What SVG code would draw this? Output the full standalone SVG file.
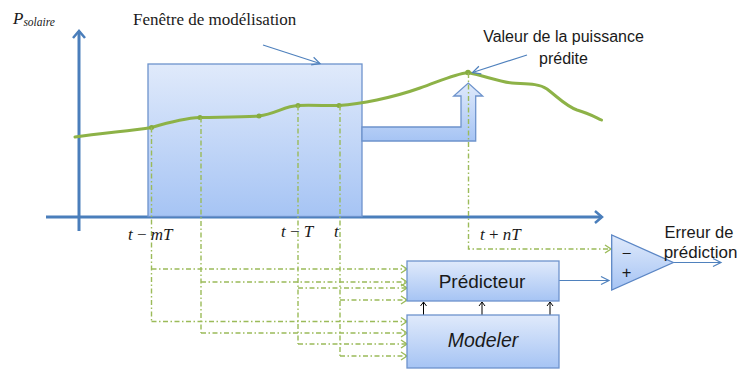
<svg xmlns="http://www.w3.org/2000/svg" width="741" height="371" viewBox="0 0 741 371">
<style>
.ax{fill:none;stroke:#4a7ebb;stroke-width:3}
.thin{fill:none;stroke:#4f81bd;stroke-width:1.2}
.dd{fill:none;stroke:#9bbb59;stroke-width:1.4;stroke-dasharray:5 2.5 1.5 2.5}
.box{fill:url(#gb);stroke:#6d93cc;stroke-width:1.3}
.curve{fill:none;stroke:#8db247;stroke-width:3;stroke-linecap:round;stroke-linejoin:round}
.pt{fill:#86ac40}
.sans{font-family:"Liberation Sans",Arial,sans-serif;fill:#1a1a1a}
.serif{font-family:"Liberation Serif","Times New Roman",serif;fill:#1a1a1a}
.blk{fill:none;stroke:#000;stroke-width:1}
</style>
<defs>
<linearGradient id="gb" x1="0" y1="0" x2="0" y2="1">
<stop offset="0" stop-color="#e0eafb"/>
<stop offset="1" stop-color="#a6c4f4"/>
</linearGradient>
<marker id="axh" markerUnits="userSpaceOnUse" markerWidth="20" markerHeight="20" refX="10" refY="10" orient="auto" viewBox="0 0 20 20">
<path d="M3,4 L10,10 L3,16" fill="none" stroke="#4a7ebb" stroke-width="2.5"/>
</marker>
<marker id="bh" markerUnits="userSpaceOnUse" markerWidth="14" markerHeight="14" refX="10" refY="7" orient="auto" viewBox="0 0 14 14">
<path d="M2,3 L10,7 L2,11" fill="none" stroke="#4f81bd" stroke-width="1.2"/>
</marker>
<marker id="gh" markerUnits="userSpaceOnUse" markerWidth="14" markerHeight="14" refX="10" refY="7" orient="auto" viewBox="0 0 14 14">
<path d="M4,3 L10,7 L4,11" fill="none" stroke="#9bbb59" stroke-width="1.4"/>
</marker>
<marker id="kh" markerUnits="userSpaceOnUse" markerWidth="10" markerHeight="10" refX="8" refY="5" orient="auto" viewBox="0 0 10 10">
<path d="M4,2 L8,5 L4,8" fill="none" stroke="#000" stroke-width="1"/>
</marker>
</defs>

<g id="axes">
<line class="ax" x1="79" y1="231" x2="79" y2="31" marker-end="url(#axh)"/>
<line class="ax" x1="46" y1="217" x2="602" y2="217" marker-end="url(#axh)"/>
</g>

<g id="window">
<rect class="box" x="148" y="64" width="214" height="152.5"/>
<path class="box" d="M362,127 L461,127 L461,96 L453.7,96 L468.3,83 L482.7,96 L475.7,96 L475.7,141 L362,141 Z"/>
</g>

<g id="curve">
<path class="curve" d="M75,137 C100,133 130,131 151.5,127.5 C170,122 185,118 200,117.5 C225,117 245,117 259,116 C275,114 285,106 298,105.5 C315,105 330,106 339,105.5 C360,104 392,98 420,88 C440,81 455,74 468,72.5 C485,76 500,82 512,83 C525,84 538,83 547,89 C560,99 566,106 577,110 C588,113 595,117 601.5,120"/>
<circle class="pt" cx="151.5" cy="127.5" r="2.5"/>
<circle class="pt" cx="200" cy="117.5" r="2.5"/>
<circle class="pt" cx="259" cy="116" r="2.5"/>
<circle class="pt" cx="298" cy="105.5" r="2.5"/>
<circle class="pt" cx="339" cy="105.5" r="2.5"/>
<circle class="pt" cx="468" cy="72.5" r="2.8"/>
</g>

<g id="connectors">
<polyline class="dd" points="151.5,127.5 151.5,322"/>
<polyline class="dd" points="201,117.5 201,333"/>
<polyline class="dd" points="298,105.5 298,344"/>
<polyline class="dd" points="340,105.5 340,356"/>
<polyline class="dd" points="468.5,73 468.5,249 611,249" marker-end="url(#gh)"/>
<line class="dd" x1="151.5" y1="269" x2="407" y2="269" marker-end="url(#gh)"/>
<line class="dd" x1="201" y1="282" x2="407" y2="282" marker-end="url(#gh)"/>
<line class="dd" x1="298" y1="288" x2="407" y2="288" marker-end="url(#gh)"/>
<line class="dd" x1="340" y1="300" x2="407" y2="300" marker-end="url(#gh)"/>
<line class="dd" x1="151.5" y1="321.5" x2="407" y2="321.5" marker-end="url(#gh)"/>
<line class="dd" x1="201" y1="333" x2="407" y2="333" marker-end="url(#gh)"/>
<line class="dd" x1="298" y1="344" x2="407" y2="344" marker-end="url(#gh)"/>
<line class="dd" x1="340" y1="356" x2="407" y2="356" marker-end="url(#gh)"/>
<line class="blk" x1="423.5" y1="315" x2="423.5" y2="302" marker-end="url(#kh)"/>
<line class="blk" x1="482" y1="315" x2="482" y2="302" marker-end="url(#kh)"/>
<line class="blk" x1="550" y1="315" x2="550" y2="302" marker-end="url(#kh)"/>
<line class="thin" x1="559" y1="280.5" x2="609" y2="280.5" marker-end="url(#bh)"/>
<line class="thin" x1="673" y1="262.5" x2="721" y2="262.5" marker-end="url(#bh)"/>
<line class="thin" x1="263" y1="45" x2="320" y2="63.5" marker-end="url(#bh)"/>
<line class="thin" x1="527" y1="55" x2="472.5" y2="72.5" marker-end="url(#bh)"/>
</g>

<g id="predicteur">
<rect class="box" x="407" y="261" width="152" height="40"/>
<text class="sans" x="482" y="287.5" font-size="19" text-anchor="middle">Prédicteur</text>
</g>

<g id="modeler">
<rect class="box" x="407" y="315" width="152" height="53"/>
<text class="sans" x="483" y="347" font-size="19.5" font-style="italic" text-anchor="middle">Modeler</text>
</g>

<g id="comparateur">
<path d="M611.7,235 L611.7,290 L673.3,262.5 Z" fill="url(#gb)" stroke="#5b86c5" stroke-width="1.3"/>
<text class="sans" x="626.5" y="258.5" font-size="16.5" text-anchor="middle">−</text>
<text class="sans" x="626.5" y="278" font-size="16.5" text-anchor="middle">+</text>
</g>

<g id="labels">
<text class="serif" x="13" y="23.5" font-size="17" font-style="italic">P<tspan font-size="11.5" dy="2">solaire</tspan></text>
<text class="serif" x="133" y="25" font-size="17">Fenêtre de modélisation</text>
<text class="sans" x="563.5" y="41.5" font-size="16" text-anchor="middle">Valeur de la puissance</text>
<text class="sans" x="563.5" y="63.5" font-size="16" text-anchor="middle">prédite</text>
<text class="sans" x="699" y="237.5" font-size="16.5" text-anchor="middle">Erreur de</text>
<text class="sans" x="700.5" y="257.5" font-size="17" text-anchor="middle">prédiction</text>
<text class="serif" x="128" y="240" font-size="17" font-style="italic">t <tspan font-style="normal">−</tspan> mT</text>
<text class="serif" x="281" y="237" font-size="17" font-style="italic">t <tspan font-style="normal">−</tspan> T</text>
<text class="serif" x="334" y="237" font-size="17" font-style="italic">t</text>
<text class="serif" x="480" y="240" font-size="17" font-style="italic">t <tspan font-style="normal">+</tspan> nT</text>
</g>
</svg>
